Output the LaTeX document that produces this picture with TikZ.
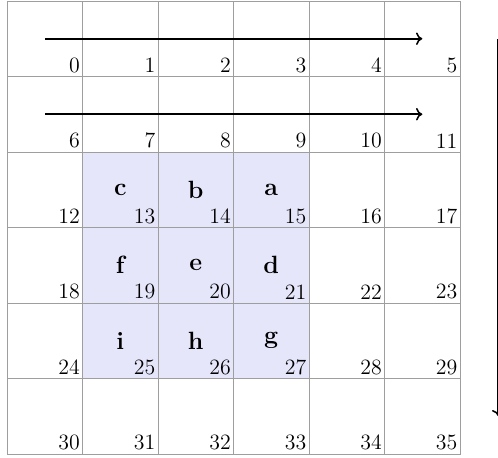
\documentclass[tikz,border=0pt]{standalone}
\usepackage{tikz}
\usetikzlibrary{arrows.meta,positioning,calc}
\definecolor{gridLine}{gray}{0.62}
\definecolor{bandFill}{RGB}{230,230,250}
\tikzset{
  cellbox/.style={rectangle, draw=gridLine, line width=0.6pt, minimum size=17mm, inner sep=0pt},
  numlabel/.style={anchor=south east, inner xsep=1.8pt, inner ysep=2.6pt, font=\fontsize{14}{16}\selectfont},
  letterlabel/.style={font=\fontsize{16}{18}\selectfont\bfseries},
  flowarrow/.style={-{To[length=4pt,width=8pt]}, line width=1pt, draw=black}
}

\begin{document}
\begin{tikzpicture}[x=17mm, y=17mm]
  \useasboundingbox (-0.093,-0.04) rectangle (6.503,6.013);
  % shaded block behind the grid
  \fill[bandFill] (1,1) rectangle (4,4);
  % cells and their numbers
  \foreach \r in {0,...,5}{
    \foreach \c in {0,...,5}{
      \pgfmathtruncatemacro{\n}{6*\r+\c}
      \node[cellbox] (c\n) at (\c+0.5, 5.5-\r) {};
      \node[numlabel] at (c\n.south east) {\n};
    }
  }
  % letters in the shaded block
  \foreach \n/\l in {13/c, 14/b, 15/a, 19/f, 20/e, 21/d, 25/i, 26/h, 27/g}
    \node[letterlabel] (l\n) at (c\n.center) {\l};
  % scan arrows
  \coordinate (downTop) at ([xshift=8.5mm]c5.east);
  \coordinate (downEnd) at ([xshift=8.5mm]c35.east);
  \draw[flowarrow] (c0.center) -- (c5.center);
  \draw[flowarrow] (c6.center) -- (c11.center);
  \draw[flowarrow] (downTop) -- (downEnd);
\end{tikzpicture}
\end{document}
